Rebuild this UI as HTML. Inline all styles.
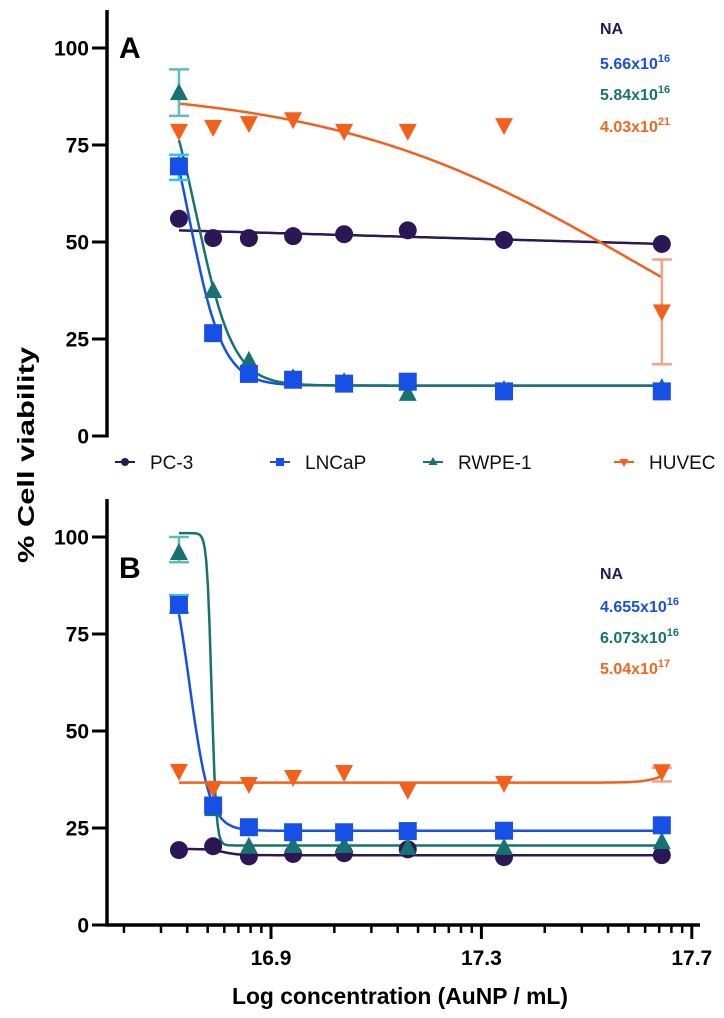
<!DOCTYPE html>
<html><head><meta charset="utf-8">
<style>
html,body{margin:0;padding:0;background:#fff;}
svg{display:block;font-family:"Liberation Sans",Arial,sans-serif;}
</style></head>
<body>
<svg id="chart" width="724" height="1018" viewBox="0 0 724 1018" xmlns="http://www.w3.org/2000/svg"></svg>
<script>
// ---- data ----
const seriesNames = ["PC-3","LNCaP","RWPE-1","HUVEC"];
const logConc = [16.725,16.79,16.858,16.942,17.039,17.16,17.343,17.643];
const aPC3   = [56,51,51,51.5,52,53,50.5,49.5];
const aLNCaP = [69.5,26.5,16,14.5,13.5,14,11.5,11.5];
const aRWPE  = [88.5,37.5,19.5,15,14,11,12,12.5];
const aHUVEC = [78.5,79.5,80.5,81.5,78.5,78.5,80,32];
const bPC3   = [19.3,20.3,17.7,18.3,18.5,19.5,17.5,18];
const bLNCaP = [82.5,30.8,25.2,23.9,23.9,24.2,24.3,25.7];
const bRWPE  = [96,30,20.3,20.5,20.5,20,20,21.5];
const bHUVEC = [39.6,35.2,36.2,38,39.3,34.7,36.5,39.5];
// error bars: [seriesIndex, pointIndex, low, high]
const aErrors = [[2,0,82.5,94.5],[1,0,66,72.5],[3,7,18.5,45.5]];
const bErrors = [[2,0,93.5,100],[1,0,80.5,85],[3,7,37,40.5]];
// fit params: [type, p1, p2, p3, p4]  4PL: top,bottom,logIC50,hill ; line: y0,y1
const aFits = [["line",53,49.5],["4pl",100,13,16.744,13.4],["4pl",100,13,16.759,12.5],["4pl",90,0,17.59,1.5]];
const bFits = [["4pl",19.6,18,16.81,30],["4pl",100,24.3,16.745,22.4],["4pl",101,20.5,16.787,100],["4pl",36.7,42,17.66,20]];
const aLabels = ["NA","5.66x10","5.84x10","4.03x10"];
const aExp = ["","16","16","21"];
const bLabels = ["NA","4.655x10","6.073x10","5.04x10"];
const bExp = ["","16","16","17"];
const yTicks = [0,25,50,75,100];
const xMajor = [16.9,17.3,17.7];

const colors = ["#2b1755","#1650e6","#177272","#f4601c"];
const errColors = ["#2b1755","#34c2f0","#5fbcbc","#f5a285"];
const labelColors = ["#2b1755","#1650e6","#177272","#f0661f"];

const NS="http://www.w3.org/2000/svg";
const svg=document.getElementById('chart');
function el(tag,attrs,parent){const e=document.createElementNS(NS,tag);for(const k in attrs)e.setAttribute(k,attrs[k]);(parent||svg).appendChild(e);return e;}

const xs = v => 271 + (v-16.9)*526;
const panels=[
 {name:"a",zero:436,per:3.88,top:10,letter:"A",letterY:58,data:[aPC3,aLNCaP,aRWPE,aHUVEC],err:aErrors,fits:aFits,labels:aLabels,exp:aExp,labY:[28,63,94,126],xaxis:false},
 {name:"b",zero:925,per:3.88,top:499,letter:"B",letterY:578,data:[bPC3,bLNCaP,bRWPE,bHUVEC],err:bErrors,fits:bFits,labels:bLabels,exp:bExp,labY:[573,606,637,668],xaxis:true}
];

function fitVal(f,x,x0,x1){
  if(f[0]==="line") return f[1]+(f[2]-f[1])*(x-x0)/(x1-x0);
  return f[2]+(f[1]-f[2])/(1+Math.pow(10,(x-f[3])*f[4]));
}
function marker(g,i,cx,cy){
  let m;
  if(i===0) m=el('circle',{cx:cx,cy:cy,r:9,fill:colors[0]},g);
  else if(i===1) m=el('rect',{x:cx-9,y:cy-9,width:18,height:18,fill:colors[1]},g);
  else if(i===2) m=el('polygon',{points:`${cx},${cy-9.5} ${cx-9},${cy+7.5} ${cx+9},${cy+7.5}`,fill:colors[2]},g);
  else m=el('polygon',{points:`${cx-9},${cy-7.5} ${cx+9},${cy-7.5} ${cx},${cy+9.5}`,fill:colors[3]},g);
  return m;
}

panels.forEach(p=>{
  const ys=v=>p.zero-v*p.per;
  const g=el('g',{});
  
  
  const ya=el('line',{x1:107,y1:p.top,x2:107,y2:p.zero+1.5,stroke:"#000","stroke-width":3.5},g);
  
  
  yTicks.forEach(t=>{
    const tl=el('line',{x1:92,y1:ys(t),x2:107,y2:ys(t),stroke:"#000","stroke-width":3},g);
    
    
    const tx=el('text',{x:89,y:ys(t)+7.5,"text-anchor":"end","font-size":21,"font-weight":"bold",fill:"#000"},g);
    tx.textContent=t;
    
    
  });
  const lt=el('text',{x:119,y:p.letterY,"font-size":30,"font-weight":"bold",fill:"#000"},g);
  lt.textContent=p.letter;
  
  
  if(p.xaxis){
    const xa=el('line',{x1:105.5,y1:p.zero,x2:700,y2:p.zero,stroke:"#000","stroke-width":3.5},g);
    
    
    for(let base=16.5;base<17.7;base+=0.4){
      for(let k=2;k<=9;k++){
        const v=base+0.4*Math.log10(k);
        const x=xs(v); if(x<110) continue;
        const mt=el('line',{x1:x,y1:p.zero,x2:x,y2:p.zero+8,stroke:"#000","stroke-width":2.5},g);
        
        
      }
    }
    xMajor.forEach(v=>{
      const x=xs(v);
      const mt=el('line',{x1:x,y1:p.zero,x2:x,y2:p.zero+14,stroke:"#000","stroke-width":3},g);
      
      
      const tx=el('text',{x:x,y:p.zero+40,"text-anchor":"middle","font-size":21,"font-weight":"bold",fill:"#000"},g);
      tx.textContent=v.toFixed(1);
      
      
    });
  }
  const x0=logConc[0],x1=logConc[logConc.length-1];
  p.fits.forEach((f,i)=>{
    let d="";
    for(let s=0;s<=300;s++){const x=x0+(x1-x0)*s/300;const y=Math.max(-5,Math.min(108,fitVal(f,x,x0,x1)));d+=(s?"L":"M")+xs(x).toFixed(1)+","+ys(y).toFixed(1);}
    const path=el('path',{d:d,fill:"none",stroke:colors[i],"stroke-width":2.5},g);
    
    
  });
  p.err.forEach(e=>{
    const x=xs(logConc[e[1]]);
    const eg=el('g',{stroke:errColors[e[0]],"stroke-width":2.5},g);
    
    
    el('line',{x1:x,y1:ys(e[2]),x2:x,y2:ys(e[3])},eg);
    el('line',{x1:x-10,y1:ys(e[2]),x2:x+10,y2:ys(e[2])},eg);
    el('line',{x1:x-10,y1:ys(e[3]),x2:x+10,y2:ys(e[3])},eg);
  });
  [3,0,2,1].forEach(i=>{
    p.data[i].forEach((v,j)=>{
      const m=marker(g,i,xs(logConc[j]),ys(v));
      
      
    });
  });
  p.labels.forEach((t,i)=>{
    const tx=el('text',{x:600,y:p.labY[i]+6,"font-size":16,"font-weight":"bold",fill:labelColors[i]},g);
    tx.textContent=t;
    if(p.exp[i]){const ts=el('tspan',{dy:-7,"font-size":11},tx);ts.textContent=p.exp[i];}
    
    
  });
});

const legX=[125,280,433,624];
const lg=el('g',{});


seriesNames.forEach((n,i)=>{
  const eg=el('g',{},lg);
  
  
  const x=legX[i],y=462;
  el('line',{x1:x-10,y1:y,x2:x+10,y2:y,stroke:colors[i],"stroke-width":2},eg);
  if(i===0) el('circle',{cx:x,cy:y,r:4,fill:colors[0]},eg);
  else if(i===1) el('rect',{x:x-4,y:y-4,width:8,height:8,fill:colors[1]},eg);
  else if(i===2) el('polygon',{points:`${x},${y-5} ${x-4.5},${y+3} ${x+4.5},${y+3}`,fill:colors[2]},eg);
  else el('polygon',{points:`${x-4.5},${y-3} ${x+4.5},${y-3} ${x},${y+5}`,fill:colors[3]},eg);
  const t=el('text',{x:x+25,y:y+7,"font-size":19,fill:"#111"},eg);
  t.textContent=n;
});

const yt=el('text',{x:0,y:0,transform:"translate(34,455) rotate(-90)","text-anchor":"middle","font-size":23,"font-weight":"bold",fill:"#000",textLength:216,lengthAdjust:"spacingAndGlyphs"});
yt.textContent="%  Cell viability";


const xt=el('text',{x:400,y:1004,"text-anchor":"middle","font-size":23,"font-weight":"bold",fill:"#000",textLength:336,lengthAdjust:"spacingAndGlyphs"});
xt.textContent="Log concentration (AuNP / mL)";


</script>
</body></html>
